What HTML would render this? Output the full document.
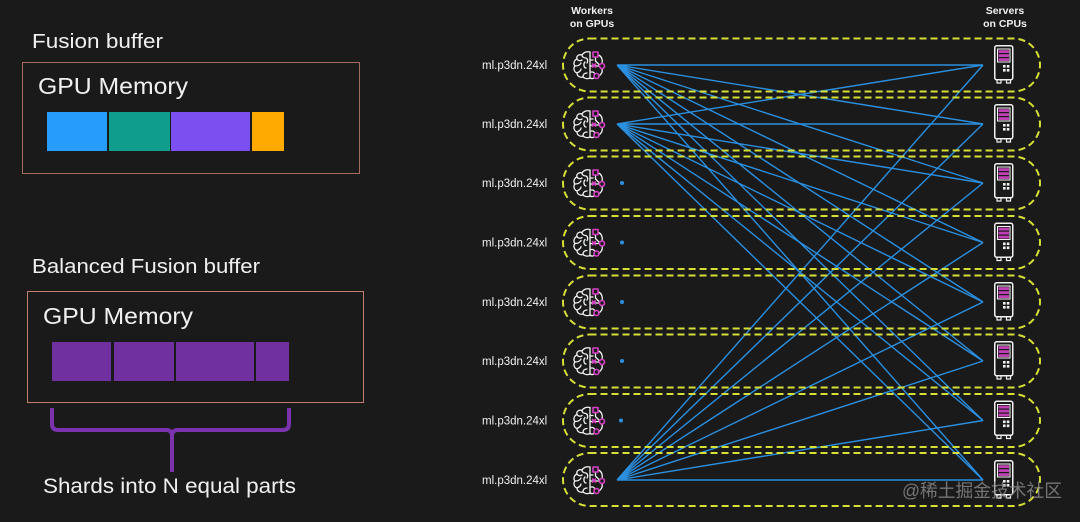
<!DOCTYPE html>
<html><head><meta charset="utf-8">
<style>
html,body{margin:0;padding:0;background:#1a1a1a;}
svg{display:block;}
text{font-family:"Liberation Sans","Noto Sans CJK SC",sans-serif;}
</style></head>
<body>
<svg width="1080" height="522" viewBox="0 0 1080 522" xmlns="http://www.w3.org/2000/svg">
<rect width="1080" height="522" fill="#1a1a1a"/>
<defs>
  <g id="brain" fill="none" stroke-linecap="round" stroke-linejoin="round">
    <g stroke="#f2f2f2" stroke-width="1.3">
      <path d="M17,1 C13,0 10,2 9,4 C6,3 3,5 4,8 C1,9 0,13 2,15 C0,17 1,21 4,22 C4,25 7,27 10,26 C12,28 15,28 17,27"/>
      <path d="M9,4 C9,6 11,7 13,7 M4,8 C5,10 8,10 9,9 M2,15 C5,15 7,14 8,12 M12,11 C10,13 11,17 13,17 M4,22 C6,21 8,20 8,18 M10,26 C10,23 12,22 14,22 M13,7 C15,8 15,11 14,12"/>
      <path d="M17,1 V27"/>
      <path d="M17,9 H20 M17,15 H26.5 M22.5,6 V10 L26,13.5 M17,21 H20 L22.5,23 M25.5,4 C28,5 30,8 29,12.5 M29,17.5 C30,21 28,24 25.5,25 M17,27 C19,28 21,27.5 21.5,26.5"/>
    </g>
    <g stroke="#d63fc4" stroke-width="1.6">
      <rect x="20" y="1" width="5" height="5"/>
      <circle cx="29" cy="15" r="2.5"/>
      <circle cx="23.5" cy="25" r="2.5"/>
      <path d="M19.5,13 l3,3 M22.5,13 l-3,3"/>
    </g>
  </g>
  <g id="server" fill="none">
    <rect x="0.75" y="0.75" width="18" height="34" rx="2" stroke="#f2f2f2" stroke-width="1.5"/>
    <rect x="3.5" y="4" width="12.5" height="13" stroke="#f2f2f2" stroke-width="1"/>
    <rect x="4.5" y="5.2" width="10.5" height="2.8" fill="#c13fb5"/>
    <rect x="4.5" y="9.2" width="10.5" height="2.8" fill="#c13fb5"/>
    <rect x="4.5" y="13.2" width="10.5" height="2.8" fill="#c13fb5"/>
    <rect x="9" y="20" width="2.6" height="2.6" fill="#f2f2f2"/>
    <rect x="12.8" y="20" width="2.6" height="2.6" fill="#f2f2f2"/>
    <rect x="9" y="24" width="2.6" height="2.6" fill="#f2f2f2"/>
    <rect x="12.8" y="24" width="2.6" height="2.6" fill="#f2f2f2"/>
    <path d="M3,35 V38 H7 V35 M12.5,35 V38 H16.5 V35" stroke="#f2f2f2" stroke-width="1.2"/>
  </g>
</defs>

<!-- LEFT: Fusion buffer -->
<text x="32" y="48" font-size="20" fill="#f0f0f0" textLength="131" lengthAdjust="spacingAndGlyphs">Fusion buffer</text>
<rect x="22.5" y="62.5" width="337" height="111" fill="none" stroke="#a36c5e" stroke-width="1"/>
<text x="38" y="94" font-size="23" fill="#f0f0f0" textLength="150" lengthAdjust="spacingAndGlyphs">GPU Memory</text>
<rect x="47" y="112" width="60" height="39" fill="#269dfa"/>
<rect x="109" y="112" width="61" height="39" fill="#0f9e8e"/>
<rect x="171" y="112" width="79" height="39" fill="#7b4ff0"/>
<rect x="252" y="112" width="32" height="39" fill="#ffaa00"/>

<!-- LEFT: Balanced Fusion buffer -->
<text x="32" y="273" font-size="20" fill="#f0f0f0" textLength="228" lengthAdjust="spacingAndGlyphs">Balanced Fusion buffer</text>
<rect x="27.5" y="291.5" width="336" height="111" fill="none" stroke="#c27c70" stroke-width="1"/>
<text x="43" y="324" font-size="23" fill="#f0f0f0" textLength="150" lengthAdjust="spacingAndGlyphs">GPU Memory</text>
<rect x="52" y="342" width="59" height="39" fill="#7030a0"/>
<rect x="114" y="342" width="60" height="39" fill="#7030a0"/>
<rect x="176" y="342" width="78" height="39" fill="#7030a0"/>
<rect x="256" y="342" width="33" height="39" fill="#7030a0"/>
<path d="M52,408 V424 Q52,430 58,430 H166 Q172,430 172,436 V472 M172,436 Q172,430 178,430 H283 Q289,430 289,424 V408" fill="none" stroke="#7a33ad" stroke-width="4"/>
<text x="43" y="493" font-size="21" fill="#f0f0f0" textLength="253" lengthAdjust="spacingAndGlyphs">Shards into N equal parts</text>

<!-- RIGHT headers -->
<text x="592" y="14" font-size="10.5" font-weight="bold" fill="#f0f0f0" text-anchor="middle">Workers</text>
<text x="592" y="27" font-size="10.5" font-weight="bold" fill="#f0f0f0" text-anchor="middle">on GPUs</text>
<text x="1005" y="14" font-size="10.5" font-weight="bold" fill="#f0f0f0" text-anchor="middle">Servers</text>
<text x="1005" y="27" font-size="10.5" font-weight="bold" fill="#f0f0f0" text-anchor="middle">on CPUs</text>

<!-- lines -->
<g stroke="#2b8fe0" stroke-width="1.4" fill="none">
  <path d="M617,65 L983,65 M617,65 L983,124 M617,65 L983,183 M617,65 L983,242.5 M617,65 L983,302 M617,65 L983,361 M617,65 L983,420.5 M617,65 L983,480"/>
  <path d="M617,124 L983,65 M617,124 L983,124 M617,124 L983,183 M617,124 L983,242.5 M617,124 L983,302 M617,124 L983,361 M617,124 L983,420.5 M617,124 L983,480"/>
  <path d="M617,480 L983,65 M617,480 L983,124 M617,480 L983,183 M617,480 L983,242.5 M617,480 L983,302 M617,480 L983,361 M617,480 L983,420.5 M617,480 L983,480"/>
</g>
<g fill="#2b8fe0">
  <circle cx="622" cy="183" r="2"/>
  <circle cx="622" cy="242.5" r="2"/>
  <circle cx="622" cy="302" r="2"/>
  <circle cx="622" cy="361" r="2"/>
  <circle cx="621" cy="420.5" r="2"/>
</g>

<!-- pills -->
<g fill="none" stroke="#d6df36" stroke-width="2" stroke-dasharray="7 4">
  <rect x="563" y="38.5" width="477" height="53" rx="26.5"/>
  <rect x="563" y="97.5" width="477" height="53" rx="26.5"/>
  <rect x="563" y="156.5" width="477" height="53" rx="26.5"/>
  <rect x="563" y="216" width="477" height="53" rx="26.5"/>
  <rect x="563" y="275.5" width="477" height="53" rx="26.5"/>
  <rect x="563" y="334.5" width="477" height="53" rx="26.5"/>
  <rect x="563" y="394" width="477" height="53" rx="26.5"/>
  <rect x="563" y="453" width="477" height="53" rx="26.5"/>
</g>

<!-- labels -->
<g font-size="11.5" fill="#f0f0f0">
  <text x="482" y="69">ml.p3dn.24xl</text>
  <text x="482" y="128">ml.p3dn.24xl</text>
  <text x="482" y="187">ml.p3dn.24xl</text>
  <text x="482" y="246.5">ml.p3dn.24xl</text>
  <text x="482" y="306">ml.p3dn.24xl</text>
  <text x="482" y="365">ml.p3dn.24xl</text>
  <text x="482" y="424.5">ml.p3dn.24xl</text>
  <text x="482" y="484">ml.p3dn.24xl</text>
</g>

<!-- brains -->
<use href="#brain" x="573" y="51"/>
<use href="#brain" x="573" y="110"/>
<use href="#brain" x="573" y="169"/>
<use href="#brain" x="573" y="228.5"/>
<use href="#brain" x="573" y="288"/>
<use href="#brain" x="573" y="347"/>
<use href="#brain" x="573" y="406.5"/>
<use href="#brain" x="573" y="466"/>

<!-- servers -->
<use href="#server" x="994" y="45"/>
<use href="#server" x="994" y="104"/>
<use href="#server" x="994" y="163"/>
<use href="#server" x="994" y="222.5"/>
<use href="#server" x="994" y="282"/>
<use href="#server" x="994" y="341"/>
<use href="#server" x="994" y="400.5"/>
<use href="#server" x="994" y="460"/>

<!-- watermark -->
<text x="902" y="497" font-size="18" fill="#8c8c8c" fill-opacity="0.8" textLength="160" lengthAdjust="spacingAndGlyphs" font-family="'Noto Sans CJK SC','Liberation Sans',sans-serif">@稀土掘金技术社区</text>
</svg>
</body></html>
